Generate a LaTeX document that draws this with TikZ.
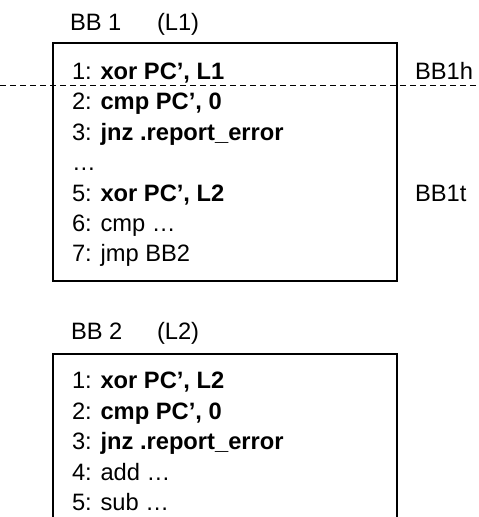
\documentclass[tikz,border=0pt]{standalone}
\usepackage{fontspec}
\setmainfont{Liberation Sans}
\newcommand\diagfont{\fontsize{23.7}{28}\selectfont}
\begin{document}
\begin{tikzpicture}[x=1pt,y=-1pt,
  txt/.style={anchor=base west,inner sep=0pt,outer sep=0pt,font=\diagfont},
  blockframe/.style={draw=black,line width=1.3pt},
  cutline/.style={draw=black,line width=1pt,dash pattern=on 6pt off 4pt}]
  \useasboundingbox (0,0) rectangle (479,517);

  % block headers
  \node[txt] (h1) at (70,30) {BB 1};
  \node[txt] (l1) at (157,30) {(L1)};
  \node[txt] (h2) at (71,339) {BB 2};
  \node[txt] (l2) at (157,339) {(L2)};

  % first block
  \draw[blockframe] (53,43) rectangle (397,281);
  \node[txt] (a1) at (72,79.5)  {1: \textbf{xor PC’, L1}};
  \node[txt] (a2) at (72,109.9) {2: \textbf{cmp PC’, 0}};
  \node[txt] (a3) at (72,140.3) {3: \textbf{jnz .report\_error}};
  \node[txt] (a4) at (72,170.7) {…};
  \node[txt] (a5) at (72,201.1) {5: \textbf{xor PC’, L2}};
  \node[txt] (a6) at (72,231.5) {6: cmp …};
  \node[txt] (a7) at (72,261.9) {7: jmp BB2};

  % head / tail split of the first block
  \draw[cutline] (0,85) -- (479,85);
  \node[txt] (bbh) at (415,79.5) {BB1h};
  \node[txt] (bbt) at (415,201.1) {BB1t};

  % second block (continues below)
  \draw[blockframe] (53,517) -- (53,354) -- (397,354) -- (397,517);
  \node[txt] (b1) at (72,388.5) {1: \textbf{xor PC’, L2}};
  \node[txt] (b2) at (72,419)   {2: \textbf{cmp PC’, 0}};
  \node[txt] (b3) at (72,449.5) {3: \textbf{jnz .report\_error}};
  \node[txt] (b4) at (72,480)   {4: add …};
  \node[txt] (b5) at (72,510.5) {5: sub …};
\end{tikzpicture}
\end{document}
